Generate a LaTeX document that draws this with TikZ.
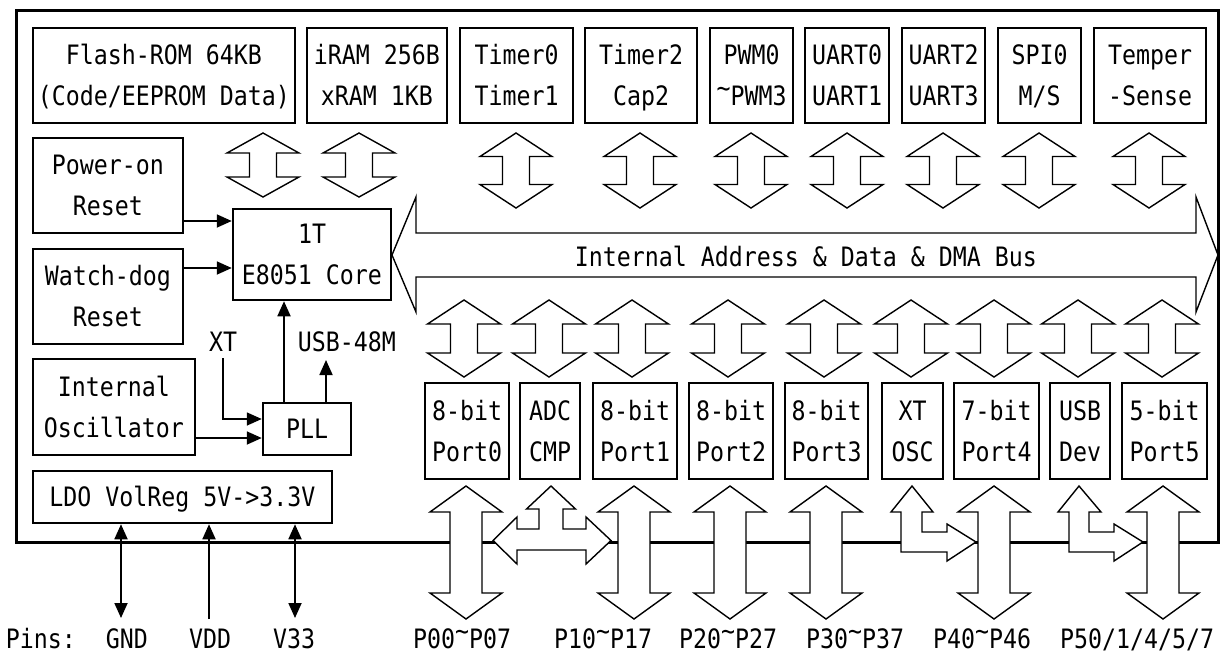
\documentclass[tikz,border=0pt]{standalone}
\usepackage{fontspec}
\setmainfont[FakeStretch=0.871]{DejaVu Sans Mono}
\usetikzlibrary{arrows.meta}
\newcommand\mytilde{\raisebox{0.3em}{\textasciitilde}}
\newcommand\vdarrow[6]{% cx, top, bottom, head half, shaft half, head length
  \draw[blk] (#1,#2) -- ({#1+#4},{#2+#6}) -- ({#1+#5},{#2+#6}) -- ({#1+#5},{#3-#6})
    -- ({#1+#4},{#3-#6}) -- (#1,#3) -- ({#1-#4},{#3-#6}) -- ({#1-#5},{#3-#6})
    -- ({#1-#5},{#2+#6}) -- ({#1-#4},{#2+#6}) -- cycle;}
\newcommand\mybox[7]{% name, cx, cy, w, h, line1, line2
  \node[box, minimum width=#4pt, minimum height=#5pt] (#1) at (#2,#3) {};
  \node[txt, anchor=base] (#1-a) at ([yshift=10.75pt]#1.center) {#6};
  \node[txt, anchor=base] (#1-b) at ([yshift=-30.25pt]#1.center) {#7};}
\newcommand\onebox[6]{% name, cx, cy, w, h, text
  \node[box, minimum width=#4pt, minimum height=#5pt] (#1) at (#2,#3) {};
  \node[txt, anchor=base] (#1-a) at ([yshift=-9.75pt]#1.center) {#6};}
\begin{document}
\begin{tikzpicture}[x=1pt,y=-1pt,
  box/.style={draw, line width=2.5pt, inner sep=0pt, fill=white},
  txt/.style={inner sep=0pt, font=\fontsize{26.7pt}{41pt}\selectfont},
  blk/.style={draw, line width=1.4pt, fill=white, line join=miter},
  conn/.style={line width=1.8pt, -{Triangle[length=15pt,width=13pt]}},
  dconn/.style={line width=1.8pt, {Triangle[length=15pt,width=13pt]}-{Triangle[length=15pt,width=13pt]}},
]
\useasboundingbox[fill=white] (0,0) rectangle (1221,654);
% outer chip border
\draw[line width=3pt] (16,10) rectangle (1218,542);

% top row
\mybox{flash}{164}{75.5}{262}{95}{Flash-ROM 64KB}{(Code/EEPROM Data)}
\mybox{iram}{377}{75.5}{140}{95}{iRAM 256B}{xRAM 1KB}
\mybox{tim0}{516.5}{75.5}{113}{95}{Timer0}{Timer1}
\mybox{tim2}{641}{75.5}{112}{95}{Timer2}{Cap2}
\mybox{pwm}{751.5}{75.5}{83}{95}{PWM0}{\mytilde PWM3}
\mybox{uart0}{847}{75.5}{84}{95}{UART0}{UART1}
\mybox{uart2}{943.5}{75.5}{83}{95}{UART2}{UART3}
\mybox{spi}{1039.5}{75.5}{83}{95}{SPI0}{M/S}
\mybox{temp}{1150}{75.5}{112}{95}{Temper}{-Sense}

% left column
\mybox{pwr}{108}{185.5}{150}{95}{Power-on}{Reset}
\mybox{wdog}{108}{296.5}{150}{95}{Watch-dog}{Reset}
\mybox{core}{312}{254.5}{158}{91}{1T}{E8051 Core}
\mybox{osc}{114}{407}{162}{96}{Internal}{Oscillator}
\onebox{pll}{307}{429}{88}{52}{PLL}
\onebox{ldo}{182.5}{497}{299}{52}{LDO VolReg 5V->3.3V}

% port row
\mybox{p0}{467}{431}{84}{96}{8-bit}{Port0}
\mybox{adc}{550}{431}{60}{96}{ADC}{CMP}
\mybox{p1}{635}{431}{84}{96}{8-bit}{Port1}
\mybox{p2}{731}{431}{84}{96}{8-bit}{Port2}
\mybox{p3}{826.5}{431}{83}{96}{8-bit}{Port3}
\mybox{xt}{912.5}{431}{61}{96}{XT}{OSC}
\mybox{p4}{996.5}{431}{85}{96}{7-bit}{Port4}
\mybox{usb}{1080}{431}{60}{96}{USB}{Dev}
\mybox{p5}{1164.5}{431}{85}{96}{5-bit}{Port5}

% block arrows: memories / peripherals <-> bus
\foreach \c in {263,359} {\vdarrow{\c}{133}{197}{36}{13.5}{20}}
\foreach \c in {516,640,751,847,943,1039,1149} {\vdarrow{\c}{133}{208}{36}{13.5}{23.5}}
% bus <-> ports
\foreach \c in {464,549,632,728,824,911,994,1078,1162} {\vdarrow{\c}{300}{377}{36.5}{13.5}{24}}
% ports <-> pins
\foreach \c in {466,634,730,826,994,1163} {\vdarrow{\c}{486}{619}{36}{16}{26}}

% internal bus
\draw[blk] (392,255) -- (416,197) -- (416,233) -- (1196,233) -- (1196,197) -- (1218,255)
  -- (1196,312) -- (1196,277) -- (416,277) -- (416,312) -- cycle;
\node[txt, anchor=base] (buslab) at (806,266) {Internal Address \& Data \& DMA Bus};

% ADC tee arrow
\draw[blk] (551,486) -- (575.5,509) -- (563,509) -- (563,529) -- (586,529) -- (586,517)
  -- (611,540.5) -- (586,564) -- (586,550) -- (517,550) -- (517,564) -- (493,540.5)
  -- (517,517) -- (517,529) -- (539,529) -- (539,509) -- (526.5,509) -- cycle;
% XT OSC bent arrow
\draw[blk] (912,486) -- (933,512) -- (922,512) -- (922,532) -- (947,532) -- (947,524)
  -- (976,542) -- (947,561) -- (947,552) -- (901,552) -- (901,512) -- (891,512) -- cycle;
% USB bent arrow
\draw[blk] (1079,486) -- (1101,512) -- (1089,512) -- (1089,532) -- (1114,532) -- (1114,524)
  -- (1143,542) -- (1114,561) -- (1114,552) -- (1069,552) -- (1069,512) -- (1058,512) -- cycle;

% thin connectors
\coordinate (yPwr) at (0,221);
\coordinate (yWd) at (0,268);
\coordinate (yOsc) at (0,438);
\coordinate (yXT) at (0,419);
\coordinate (xCore) at (284,0);
\coordinate (usbEnd) at (326,360);
\draw[conn] (pwr.east |- yPwr) -- (core.west |- yPwr);
\draw[conn] (wdog.east |- yWd) -- (core.west |- yWd);
\draw[conn] (osc.east |- yOsc) -- (pll.west |- yOsc);
\node[txt, anchor=base] (xtlab) at (223,351.25) {XT};
\draw[conn, line width=1.6pt] ([yshift=-7pt]xtlab.south) |- (pll.west |- yXT);
\draw[conn] (pll.north -| xCore) -- (core.south -| xCore);
\draw[conn] (pll.north -| usbEnd) -- (usbEnd);
\node[txt, anchor=base] (usblab) at (347,351.75) {USB-48M};

% power pins
\coordinate (gndP) at (121,618);
\coordinate (vddP) at (209,619);
\coordinate (v33P) at (295,618);
\draw[dconn] (ldo.south -| gndP) -- (gndP);
\draw[conn] (vddP) -- (ldo.south -| vddP);
\draw[dconn] (ldo.south -| v33P) -- (v33P);

% pin labels
\node[txt, anchor=base] (pins) at (41,648.5) {Pins:};
\node[txt, anchor=base] (gnd) at (127,648.5) {GND};
\node[txt, anchor=base] (vdd) at (210,648.5) {VDD};
\node[txt, anchor=base] (v33) at (294,648.5) {V33};
\node[txt, anchor=base] (pin0) at (462,648.5) {P00\mytilde P07};
\node[txt, anchor=base] (pin1) at (603,648.5) {P10\mytilde P17};
\node[txt, anchor=base] (pin2) at (728,648.5) {P20\mytilde P27};
\node[txt, anchor=base] (pin3) at (855,648.5) {P30\mytilde P37};
\node[txt, anchor=base] (pin4) at (982,648.5) {P40\mytilde P46};
\node[txt, anchor=base] (pin5) at (1137,648.5) {P50/1/4/5/7};
\end{tikzpicture}
\end{document}
